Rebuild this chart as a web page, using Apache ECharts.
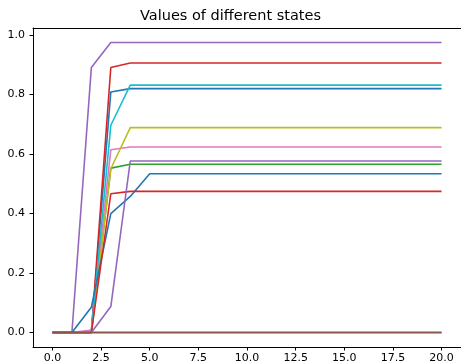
<!DOCTYPE html>
<html>
<head>
<meta charset="utf-8">
<script src="https://cdn.jsdelivr.net/npm/echarts@6/dist/echarts.min.js"></script>
<style>html,body{margin:0;padding:0;background:#fff}#c{width:461px;height:364px}</style>
</head>
<body>
<div id="c"></div>
<script>
const xValues = [0,1,2,3,4,5,6,7,8,9,10,11,12,13,14,15,16,17,18,19,20];
const xTicks = [0, 2.5, 5, 7.5, 10, 12.5, 15, 17.5, 20];
const yTicks = [0, 0.2, 0.4, 0.6, 0.8, 1.0];
const chartTitle = 'Values of different states';

function plateau(start, final) { // start: first values, then final repeated to 21 points
  const a = start.slice();
  while (a.length < 21) a.push(final);
  return a;
}
const blueA   = plateau([0,0,0,0.808], 0.819);
const orangeA = plateau([0,0,0], 0);
const greenA  = plateau([0,0,0,0.552], 0.565);
const redA    = plateau([0,0,0,0.890], 0.905);
const purpleA = plateau([0,0,0.890], 0.974);
const pinkA   = plateau([0,0,0.008,0.614], 0.623);
const grayA   = plateau([0,0,0], 0);
const oliveA  = plateau([0,0,0,0.550], 0.688);
const cyanA   = plateau([0,0,0,0.696], 0.831);
const blueB   = plateau([0,0,0.085,0.399,0.457], 0.533);
const redB    = plateau([0,0,0,0.466], 0.474);
const purpleB = plateau([0,0,0,0.087], 0.576);
const brownA  = plateau([0,0,0], 0);

const seriesList = [
  ['#1f77b4', blueA], ['#ff7f0e', orangeA], ['#2ca02c', greenA], ['#d62728', redA],
  ['#9467bd', purpleA], ['#e377c2', pinkA], ['#7f7f7f', grayA], ['#bcbd22', oliveA],
  ['#17becf', cyanA], ['#1f77b4', blueB], ['#d62728', redB], ['#9467bd', purpleB],
  ['#8c564b', brownA]
];

const chart = echarts.init(document.getElementById('c'), null, {renderer: 'canvas'});
const font = 'DejaVu Sans';
chart.setOption({
  animation: false,
  title: {
    text: chartTitle, left: 'center', top: 4,
    textStyle: {fontFamily: font, fontSize: 14.5, fontWeight: 'normal', color: '#000'}
  },
  grid: {left: 33, right: -1, top: 28, bottom: 17},
  xAxis: [{
    type: 'value', min: -1, max: 21,
    axisLine: {show: true, onZero: false, lineStyle: {color: '#000', width: 1}},
    axisTick: {show: true, length: 3.5, customValues: xTicks, lineStyle: {color: '#000'}},
    axisLabel: {customValues: xTicks, formatter: v => v.toFixed(1), fontFamily: font, fontSize: 11, color: '#000', margin: 6},
    splitLine: {show: false}
  }, {
    type: 'value', min: -1, max: 21, position: 'top',
    axisLine: {show: true, onZero: false, lineStyle: {color: '#000', width: 1}},
    axisTick: {show: false}, axisLabel: {show: false}, splitLine: {show: false}
  }],
  yAxis: {
    type: 'value', min: -0.0487, max: 1.0227,
    axisLine: {show: true, onZero: false, lineStyle: {color: '#000', width: 1}},
    axisTick: {show: true, length: 3.5, customValues: yTicks, lineStyle: {color: '#000'}},
    axisLabel: {customValues: yTicks, formatter: v => v.toFixed(1), fontFamily: font, fontSize: 11, color: '#000', margin: 8},
    splitLine: {show: false}
  },
  series: seriesList.map(([c, d]) => ({
    type: 'line', xAxisIndex: 0, data: d.map((v, i) => [xValues[i], v]), showSymbol: false,
    lineStyle: {color: c, width: 1.6}, itemStyle: {color: c}
  }))
});
</script>
</body>
</html>
